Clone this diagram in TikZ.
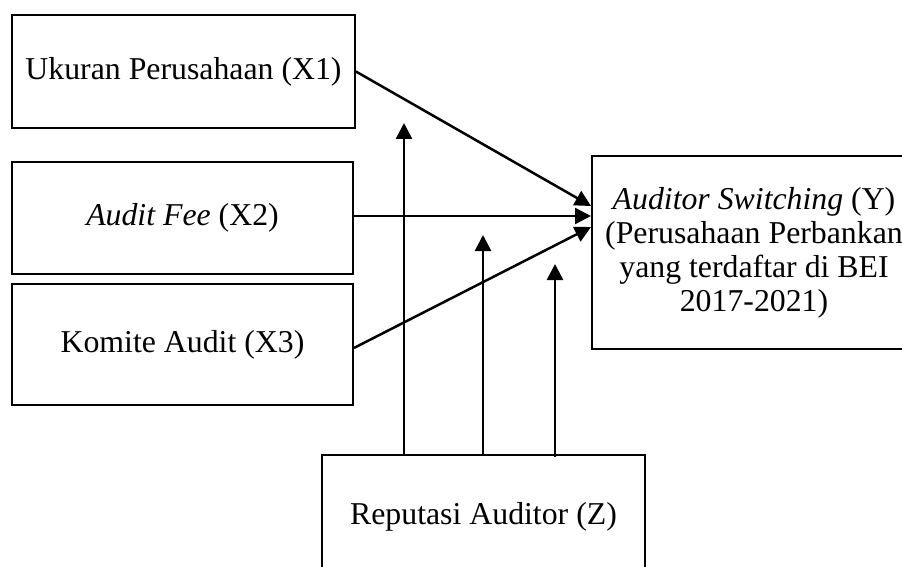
\documentclass[tikz,border=0pt]{standalone}
\usepackage{fontspec}
\setmainfont{Liberation Serif}
\usetikzlibrary{arrows.meta}
\begin{document}
\begin{tikzpicture}[x=1pt,y=-1pt,
  box/.style={draw, line width=1.8pt, inner sep=0pt, align=center,
    font=\fontsize{31.8}{34}\selectfont},
  arr/.style={line width=2.5pt, -{Triangle[length=16pt,width=16pt]}}]
\useasboundingbox (0,0) rectangle (902,567);
\node[box, minimum width=343pt, minimum height=113pt] (x1) at (183.5,71.5) {Ukuran Perusahaan (X1)};
\node[box, minimum width=341pt, minimum height=112pt] (x2) at (182.5,218) {\textit{Audit Fee} (X2)};
\node[box, minimum width=341pt, minimum height=121pt] (x3) at (182.5,344.5) {Komite Audit (X3)};
\node[box, minimum width=324pt, minimum height=193pt] (y) at (754,252.5)
  {\textit{Auditor Switching} (Y)\\(Perusahaan Perbankan\\yang terdaftar di BEI\\2017-2021)};
\node[box, minimum width=323pt, minimum height=124pt] (z) at (483.5,517) {Reputasi Auditor (Z)};
\coordinate (t1) at (591,206);
\coordinate (t2) at (591,216);
\coordinate (t3) at (591,227);
\coordinate (v1) at (404,123);
\coordinate (v2) at (483,235);
\coordinate (v3) at (555,264);
\draw[arr] (x1.east) -- (t1);
\draw[arr] (x2.east |- t2) -- (t2);
\draw[arr] ([yshift=-3.5pt]x3.east) -- (t3);
\draw[arr] (z.north -| v1) -- (v1);
\draw[arr] (z.north -| v2) -- (v2);
\draw[arr] ([yshift=-3pt]z.north -| v3) -- (v3);
\end{tikzpicture}
\end{document}
